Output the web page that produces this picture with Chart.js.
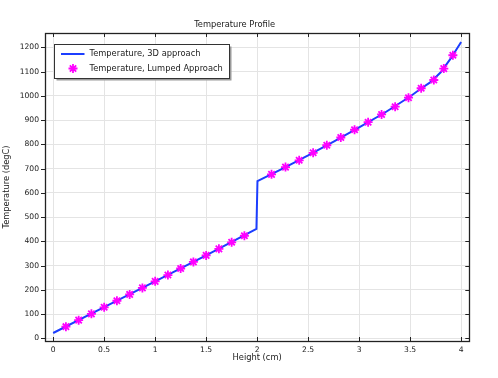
<!DOCTYPE html>
<html><head><meta charset="utf-8">
<script src="https://cdn.jsdelivr.net/npm/chart.js@4.4.1/dist/chart.umd.min.js"></script>
<style>html,body{margin:0;padding:0;background:#fff}#wrap{width:498px;height:378px}</style>
</head><body><div id="wrap"><canvas id="c" width="498" height="378"></canvas></div>
<script>
const chartTitle = 'Temperature Profile';
const xAxisTitle = 'Height (cm)';
const yAxisTitle = 'Temperature (degC)';
const lineLabel = 'Temperature, 3D approach';
const markerLabel = 'Temperature, Lumped Approach';
const xTickValues = [0, 0.5, 1, 1.5, 2, 2.5, 3, 3.5, 4];
const yTickValues = [0, 100, 200, 300, 400, 500, 600, 700, 800, 900, 1000, 1100, 1200];

// 3D approach (line)
const lineX = [0, 0.5, 1, 1.5, 1.993, 2.003, 2.25, 2.5, 2.75, 3.0, 3.25, 3.5, 3.6, 3.7, 3.8, 3.9, 4.0];
const lineY = [22, 129, 235, 342, 451, 648, 700, 754, 811, 870, 930, 997, 1028, 1056, 1097, 1155, 1222];

// Lumped approach (markers)
const markerX = [0.125, 0.25, 0.375, 0.5, 0.625, 0.75, 0.875, 1.0, 1.125, 1.25, 1.375, 1.5, 1.625, 1.75, 1.875,
                 2.141, 2.278, 2.412, 2.549, 2.683, 2.820, 2.955, 3.088, 3.220, 3.353, 3.484, 3.608, 3.732, 3.830, 3.919];
const markerY = [48, 75, 101, 128, 155, 181, 208, 235, 261, 288, 315, 342, 369, 396, 423,
                 676, 706, 734, 765, 796, 828, 860, 891, 923, 955, 992, 1031, 1065, 1112, 1167];

const FONT = 'DejaVu Sans';
const FS = 8.3;
const TFS = 7.6;
const TXT = '#1a1a1a';
const LINE_COLOR = 'rgb(28,62,255)';
const MARK_COLOR = '#ff00ff';

const framePlugin = {
  id: 'frame',
  afterDatasetsDraw(chart) {
    const {ctx, chartArea: a, scales} = chart;
    ctx.save();
    ctx.strokeStyle = '#222';
    ctx.lineWidth = 1;
    ctx.beginPath();
    xTickValues.forEach(v => {
      const px = Math.round(scales.x.getPixelForValue(v)) + 0.5;
      ctx.moveTo(px, a.top); ctx.lineTo(px, a.top + 4);
      ctx.moveTo(px, a.bottom); ctx.lineTo(px, a.bottom - 4);
    });
    yTickValues.forEach(v => {
      const py = Math.round(scales.y.getPixelForValue(v)) + 0.5;
      ctx.moveTo(a.left, py); ctx.lineTo(a.left - 4, py);
      ctx.moveTo(a.right, py); ctx.lineTo(a.right - 4, py);
    });
    ctx.stroke();
    ctx.lineWidth = 1.3;
    ctx.strokeRect(Math.round(a.left) + 0.5, Math.round(a.top) + 0.5, Math.round(a.right - a.left), Math.round(a.bottom - a.top));
    ctx.restore();
  },
  afterDraw(chart) {
    const {ctx} = chart;
    const bx = 54.5, by = 44.5, bw = 175, bh = 34;
    ctx.save();
    ctx.fillStyle = '#9a9a9a';
    ctx.fillRect(bx + 2, by + 2, bw, bh);
    ctx.fillStyle = '#fff';
    ctx.fillRect(bx, by, bw, bh);
    ctx.strokeStyle = '#333';
    ctx.lineWidth = 1;
    ctx.strokeRect(bx, by, bw, bh);
    // line sample
    ctx.strokeStyle = LINE_COLOR;
    ctx.lineWidth = 2;
    ctx.beginPath(); ctx.moveTo(61, 54); ctx.lineTo(84.5, 54); ctx.stroke();
    // star sample
    ctx.strokeStyle = MARK_COLOR;
    ctx.lineWidth = 1.8;
    ctx.beginPath();
    const r = 4.5;
    for (let k = 0; k < 4; k++) {
      const ang = k * Math.PI / 4;
      ctx.moveTo(73 - r * Math.cos(ang), 68.5 - r * Math.sin(ang));
      ctx.lineTo(73 + r * Math.cos(ang), 68.5 + r * Math.sin(ang));
    }
    ctx.stroke();
    ctx.fillStyle = TXT;
    ctx.font = FS + 'px "' + FONT + '"';
    ctx.textBaseline = 'middle';
    ctx.textAlign = 'left';
    ctx.fillText(lineLabel, 89.5, 54);
    ctx.fillText(markerLabel, 89.5, 68.5);
    ctx.restore();
  }
};

new Chart(document.getElementById('c'), {
  type: 'scatter',
  data: {
    datasets: [
      {
        label: lineLabel,
        data: lineX.map((x, i) => ({x, y: lineY[i]})),
        showLine: true,
        borderColor: LINE_COLOR,
        backgroundColor: LINE_COLOR,
        borderWidth: 2,
        pointRadius: 0,
        tension: 0,
        order: 2
      },
      {
        label: markerLabel,
        data: markerX.map((x, i) => ({x, y: markerY[i]})),
        showLine: false,
        pointStyle: 'star',
        pointRadius: 4.5,
        pointBorderWidth: 1.8,
        borderColor: MARK_COLOR,
        backgroundColor: MARK_COLOR,
        order: 1
      }
    ]
  },
  options: {
    responsive: false,
    animation: false,
    devicePixelRatio: 1,
    layout: {padding: {left: 0, right: 28.7, top: 0, bottom: 10}},
    plugins: {
      legend: {display: false},
      tooltip: {enabled: false},
      title: {
        display: true,
        text: chartTitle,
        color: TXT,
        font: {family: FONT, size: FS, weight: 'normal'},
        padding: {top: 20, bottom: 3}
      }
    },
    scales: {
      x: {
        type: 'linear',
        min: -0.08,
        max: 4.08,
        afterBuildTicks: s => { s.ticks = xTickValues.map(v => ({value: v})); },
        afterFit: s => { s.height = 27; },
        ticks: {
          color: TXT,
          font: {family: FONT, size: TFS},
          padding: 4,
          maxRotation: 0,
          autoSkip: false,
          callback: v => String(v)
        },
        grid: {color: '#e4e4e4', lineWidth: 1, drawTicks: false},
        border: {display: false},
        title: {
          display: true,
          text: xAxisTitle,
          color: TXT,
          font: {family: FONT, size: FS},
          padding: {top: 0, bottom: 5}
        }
      },
      y: {
        type: 'linear',
        min: -11,
        max: 1259,
        afterBuildTicks: s => { s.ticks = yTickValues.map(v => ({value: v})); },
        afterFit: s => { s.width = 45; },
        ticks: {
          color: TXT,
          font: {family: FONT, size: TFS},
          padding: 6,
          autoSkip: false,
          callback: v => String(v)
        },
        grid: {color: '#e4e4e4', lineWidth: 1, drawTicks: false},
        border: {display: false},
        title: {
          display: true,
          text: yAxisTitle,
          color: TXT,
          font: {family: FONT, size: FS},
          padding: {top: 1.6, bottom: 0}
        }
      }
    }
  },
  plugins: [framePlugin]
});
</script>
</body></html>
